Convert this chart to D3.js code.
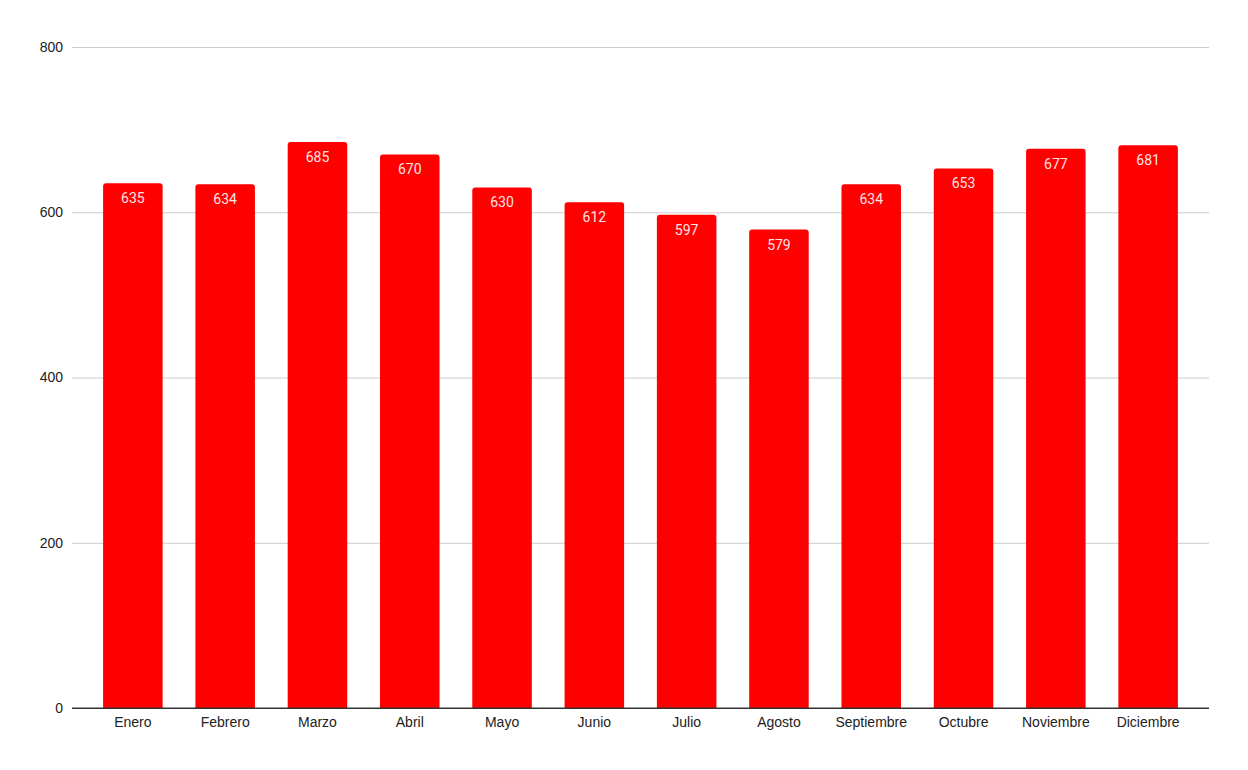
<!DOCTYPE html>
<html>
<head>
<meta charset="utf-8">
<script src="https://cdn.jsdelivr.net/npm/d3@7"></script>
<style>
  body { margin: 0; background: #fff; }
  svg { display: block; }
</style>
</head>
<body>
<div id="chart"></div>
<script>
const months = ["Enero", "Febrero", "Marzo", "Abril", "Mayo", "Junio", "Julio", "Agosto", "Septiembre", "Octubre", "Noviembre", "Diciembre"];
const values = [635, 634, 685, 670, 630, 612, 597, 579, 634, 653, 677, 681];
const yTicks = [0, 200, 400, 600, 800];

const W = 1248, H = 770;
const margin = { top: 47, right: 39, bottom: 62, left: 72 },
      width = W - margin.left - margin.right,
      height = H - margin.top - margin.bottom;

const svg = d3.select("#chart")
    .append("svg")
    .attr("width", W)
    .attr("height", H)
    .append("g")
    .attr("transform", `translate(${margin.left},${margin.top})`);

const x = d3.scaleBand()
    .domain(months)
    .range([0, width])
    .paddingInner(0.355)
    .paddingOuter(0.337);

const y = d3.scaleLinear()
    .domain([0, 800])
    .range([height, 0]);

// gridlines + y labels
const yAxis = svg.append("g")
    .call(d3.axisLeft(y).tickValues(yTicks).tickSize(-width).tickPadding(9));
yAxis.select(".domain").remove();
yAxis.selectAll(".tick line")
    .attr("stroke", d => d === 0 ? "#333" : "#ccc")
    .attr("stroke-width", 1);
yAxis.selectAll("text")
    .attr("fill", "#222")
    .style("font-family", "'Liberation Sans', Arial, sans-serif")
    .style("font-size", "14px");

// bars with rounded top corners
const r = 3;
svg.selectAll(".bar")
    .data(months.map((m, i) => ({ m, v: values[i] })))
    .join("path")
    .attr("class", "bar")
    .attr("fill", "#ff0000")
    .attr("d", d => {
        const x0 = x(d.m), x1 = x0 + x.bandwidth(), y0 = y(d.v), yb = y(0);
        return `M${x0},${yb}V${y0 + r}Q${x0},${y0} ${x0 + r},${y0}H${x1 - r}Q${x1},${y0} ${x1},${y0 + r}V${yb}Z`;
    });

// value labels
svg.selectAll(".val")
    .data(months.map((m, i) => ({ m, v: values[i] })))
    .join("text")
    .attr("class", "val")
    .attr("x", d => x(d.m) + x.bandwidth() / 2)
    .attr("y", d => y(d.v) + 20)
    .attr("text-anchor", "middle")
    .attr("fill", "#fde3e3")
    .style("font-family", "Roboto, sans-serif")
    .style("font-size", "14px")
    .text(d => d.v);

// baseline on top of bars
svg.append("line")
    .attr("x1", 0).attr("x2", width)
    .attr("y1", y(0)).attr("y2", y(0))
    .attr("stroke", "#333");

// x labels
const xAxis = svg.append("g")
    .attr("transform", `translate(0,${height})`)
    .call(d3.axisBottom(x).tickSize(0).tickPadding(9));
xAxis.select(".domain").remove();
xAxis.selectAll("text")
    .attr("fill", "#222")
    .style("font-family", "'Liberation Sans', Arial, sans-serif")
    .style("font-size", "14px");
</script>
</body>
</html>
